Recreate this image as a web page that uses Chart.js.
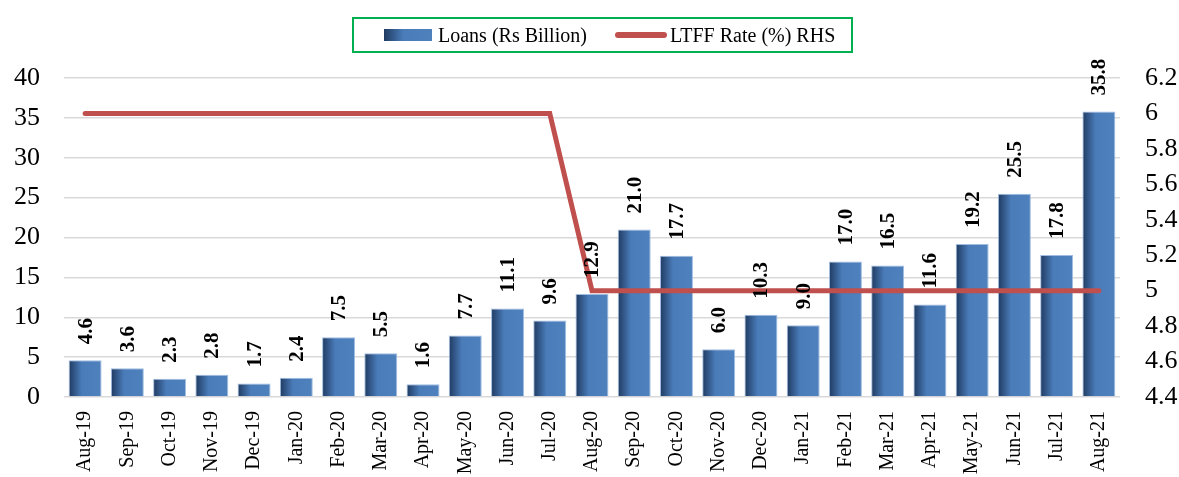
<!DOCTYPE html>
<html>
<head>
<meta charset="utf-8">
<script src="https://cdn.jsdelivr.net/npm/chart.js@4.4.1/dist/chart.umd.min.js"></script>
<style>
    html, body { margin: 0; padding: 0; background: #fff; }
    #wrap { position: relative; width: 1179px; height: 477px; }
    #legend {
        position: absolute; left: 352px; top: 17px; width: 497px; height: 32px;
        border: 2px solid #00B050; box-sizing: content-box;
        display: flex; align-items: center;
        font-family: 'Liberation Serif', serif; font-size: 20px; color: #000;
    }
    .sw-bar { width: 48px; height: 12px; margin-left: 30px; margin-right: 6px;
        background: linear-gradient(to right, #1f3a60, #4a7cba 40%, #4f81bd); }
    .sw-line { width: 52px; height: 6px; border-radius: 3px; background: #C0504D;
        margin-left: 28px; margin-right: 3px; }
</style>
</head>
<body>
<div id="wrap">
    <canvas id="loanChart" width="1179" height="477"></canvas>
    <div id="legend">
        <div class="sw-bar"></div><span>Loans (Rs Billion)</span>
        <div class="sw-line"></div><span>LTFF Rate (%) RHS</span>
    </div>
</div>
<script>
// categories
const months = ['Aug-19', 'Sep-19', 'Oct-19', 'Nov-19', 'Dec-19', 'Jan-20', 'Feb-20', 'Mar-20',
    'Apr-20', 'May-20', 'Jun-20', 'Jul-20', 'Aug-20', 'Sep-20', 'Oct-20', 'Nov-20', 'Dec-20',
    'Jan-21', 'Feb-21', 'Mar-21', 'Apr-21', 'May-21', 'Jun-21', 'Jul-21', 'Aug-21'];

// Loans (Rs Billion)
const loans = [4.6, 3.6, 2.3, 2.8, 1.7, 2.4, 7.5, 5.5, 1.6, 7.7, 11.1, 9.6, 12.9,
    21.0, 17.7, 6.0, 10.3, 9.0, 17.0, 16.5, 11.6, 19.2, 25.5, 17.8, 35.8];

// LTFF Rate (%) RHS
const ltffRate = [6, 6, 6, 6, 6, 6, 6, 6, 6, 6, 6, 6, 5,
    5, 5, 5, 5, 5, 5, 5, 5, 5, 5, 5, 5];

// axis ranges
const leftTicks = { min: 0, max: 40, step: 5 };
const rightTicks = { min: 4.4, max: 6.2, step: 0.2 };

const FONT = "'Liberation Serif', 'Times New Roman', serif";
const BAR_PCT = 0.78;

// bar fill: dark left edge, lighter body
function barFill(context) {
    const chart = context.chart;
    const xs = chart.scales.x;
    if (!xs || !chart.chartArea) return '#4F81BD';
    const cx = xs.getPixelForValue(context.dataIndex);
    const w = (xs.width / months.length) * BAR_PCT;
    const g = chart.ctx.createLinearGradient(cx - w / 2, 0, cx + w / 2, 0);
    g.addColorStop(0, '#1f3a60');
    g.addColorStop(0.4, '#4a7cba');
    g.addColorStop(1, '#4f81bd');
    return g;
}

// value labels above bars, rotated
const barLabels = {
    id: 'barLabels',
    afterDatasetsDraw(chart) {
        const ctx = chart.ctx;
        const meta = chart.getDatasetMeta(1);
        ctx.save();
        ctx.font = 'bold 21px ' + FONT;
        ctx.fillStyle = '#000';
        ctx.textAlign = 'left';
        ctx.textBaseline = 'middle';
        meta.data.forEach((bar, i) => {
            ctx.save();
            ctx.translate(bar.x + 1, bar.y - 16);
            ctx.rotate(-Math.PI / 2);
            ctx.fillText(loans[i].toFixed(1), 0, 0);
            ctx.restore();
        });
        ctx.restore();
    }
};

new Chart(document.getElementById('loanChart'), {
    type: 'bar',
    data: {
        labels: months,
        datasets: [
            {
                type: 'line',
                label: 'LTFF Rate (%) RHS',
                data: ltffRate,
                borderColor: '#C0504D',
                borderWidth: 5,
                borderCapStyle: 'round',
                borderJoinStyle: 'miter',
                pointRadius: 0,
                tension: 0,
                yAxisID: 'y1',
                order: 0
            },
            {
                type: 'bar',
                label: 'Loans (Rs Billion)',
                data: loans,
                backgroundColor: barFill,
                borderColor: 'rgba(150,182,222,0.9)',
                borderWidth: 1,
                barPercentage: BAR_PCT,
                categoryPercentage: 1,
                yAxisID: 'y',
                order: 1
            }
        ]
    },
    options: {
        responsive: false,
        animation: false,
        layout: { padding: { top: 78, left: 0, right: 0, bottom: 0 } },
        plugins: {
            legend: { display: false },
            tooltip: { enabled: false }
        },
        scales: {
            x: {
                grid: { display: false, drawTicks: false },
                border: { display: false },
                ticks: {
                    minRotation: 90, maxRotation: 90, padding: 14,
                    color: '#000', font: { family: FONT, size: 20 }
                },
                afterFit(scale) { scale.height = 80; }
            },
            y: {
                position: 'left',
                min: leftTicks.min, max: leftTicks.max,
                ticks: {
                    stepSize: leftTicks.step, padding: 24,
                    color: '#000', font: { family: FONT, size: 26 }
                },
                grid: { color: '#d9d9d9', lineWidth: 1.5, drawTicks: false },
                border: { display: false },
                afterFit(scale) { scale.width = 64; }
            },
            y1: {
                position: 'right',
                min: rightTicks.min, max: rightTicks.max,
                ticks: {
                    stepSize: rightTicks.step, padding: 25,
                    color: '#000', font: { family: FONT, size: 26 },
                    callback: v => String(parseFloat(v.toFixed(1)))
                },
                grid: { drawOnChartArea: false, drawTicks: false },
                border: { display: false },
                afterFit(scale) { scale.width = 59; }
            }
        }
    },
    plugins: [barLabels]
});
</script>
</body>
</html>
